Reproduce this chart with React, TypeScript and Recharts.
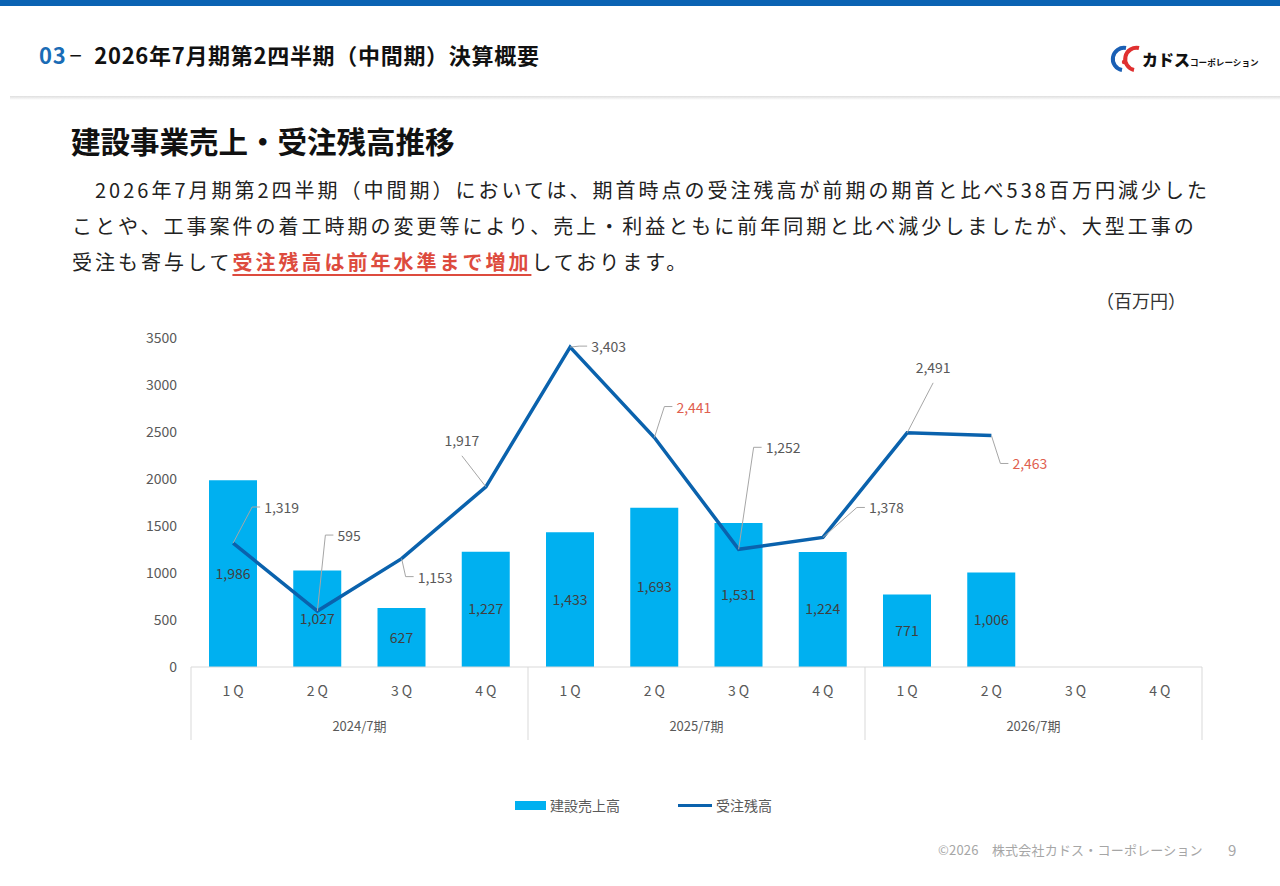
import React from "react";
import { Bar, ComposedChart, LabelList, Legend, Line, XAxis, YAxis } from "recharts";

const quarters = ["1 Q", "2 Q", "3 Q", "4 Q", "1 Q", "2 Q", "3 Q", "4 Q", "1 Q", "2 Q", "3 Q", "4 Q"];
const fiscalYears = ["2024/7期", "2025/7期", "2026/7期"];
const salesValues = [1986, 1027, 627, 1227, 1433, 1693, 1531, 1224, 771, 1006, null, null];
const backlogValues = [1319, 595, 1153, 1917, 3403, 2441, 1252, 1378, 2491, 2463, null, null];
const yTicks = [0, 500, 1000, 1500, 2000, 2500, 3000, 3500];

// where each 受注残高 label sits relative to its point (Excel callouts)
const backlogLabelPlacement = [
  { dx: 31, dy: -36, anchor: "start" },
  { dx: 20, dy: -76, anchor: "start" },
  { dx: 16, dy: 18, anchor: "start" },
  { dx: -24, dy: -47, anchor: "middle" },
  { dx: 21, dy: -1, anchor: "start" },
  { dx: 22, dy: -31, anchor: "start" },
  { dx: 27, dy: -102, anchor: "start" },
  { dx: 46, dy: -30, anchor: "start" },
  { dx: 26, dy: -66, anchor: "middle" },
  { dx: 21, dy: 28, anchor: "start" },
];
const highlightedBacklog = [5, 9];

const FONT = '"Noto Sans CJK JP", "Noto Sans", sans-serif';
const AXIS_GRAY = "#595959";
const BAR_BLUE = "#00b0f0";
const LINE_BLUE = "#0a62ad";
const CHART_W = 1280;
const MARGIN = { top: 38, right: 78, left: 0, bottom: 100 };
const Y_AXIS_W = 191;
const PLOT_W = CHART_W - MARGIN.right - MARGIN.left - Y_AXIS_W;

const data = quarters.map((q, i) => ({
  key: `${fiscalYears[Math.floor(i / 4)]}-${q}`,
  sales: salesValues[i],
  backlog: backlogValues[i],
}));

const fmt = (v: number) => v.toLocaleString("en-US");

function QuarterTick(props: any) {
  const { x, y, index } = props;
  const half = PLOT_W / quarters.length / 2;
  return (
    <g>
      <text x={x} y={y + 23} textAnchor="middle" dominantBaseline="central" fill={AXIS_GRAY} fontSize={14} fontFamily={FONT}>
        {quarters[index]}
      </text>
      {index % 4 === 0 && <line x1={x - half} x2={x - half} y1={y} y2={y + 73} stroke="#d9d9d9" />}
      {index === quarters.length - 1 && <line x1={x + half} x2={x + half} y1={y} y2={y + 73} stroke="#d9d9d9" />}
      {index % 4 === 1 && (
        <text x={x + half} y={y + 58} textAnchor="middle" dominantBaseline="central" fill={AXIS_GRAY} fontSize={13} fontFamily={FONT}>
          {fiscalYears[Math.floor(index / 4)]}
        </text>
      )}
    </g>
  );
}

function BacklogLabel(props: any) {
  const { value, index } = props;
  if (value == null) return null;
  const px = props.x ?? props.viewBox?.x;
  const py = props.y ?? props.viewBox?.y;
  const p = backlogLabelPlacement[index];
  if (!p) return null;
  const tx = px + p.dx;
  const ty = py + p.dy;
  const color = highlightedBacklog.includes(index) ? "#e0604f" : AXIS_GRAY;
  const d =
    p.anchor === "start"
      ? `M${px},${py}L${tx - 12},${ty}L${tx - 4},${ty}`
      : `M${px},${py}L${tx},${ty + 16}`;
  return (
    <g>
      <path d={d} stroke="#a6a6a6" strokeWidth={1} fill="none" />
      <text x={tx} y={ty} textAnchor={p.anchor} dominantBaseline="central" fill={color} fontSize={14} fontFamily={FONT}>
        {fmt(value)}
      </text>
    </g>
  );
}

function ChartLegend() {
  return (
    <div style={{ display: "flex", alignItems: "center", fontFamily: FONT, fontSize: 14, color: AXIS_GRAY, paddingLeft: 515 }}>
      <span style={{ display: "inline-block", width: 31, height: 9, background: BAR_BLUE, marginRight: 4 }} />
      <span style={{ marginRight: 58 }}>建設売上高</span>
      <span style={{ display: "inline-block", width: 34, height: 3, background: LINE_BLUE, marginRight: 4 }} />
      <span>受注残高</span>
    </div>
  );
}

function Logo() {
  return (
    <svg width={174} height={32} style={{ position: "absolute", left: 1106, top: 43 }}>
      <path d="M20,5 A11,11 0 1 0 16,27" stroke="#1a5fb4" strokeWidth={4} fill="none" />
      <path d="M33,5 A11,11 0 1 0 28,27" stroke="#e03030" strokeWidth={4} fill="none" />
      <circle cx={18} cy={19} r={2.2} fill="#e03030" />
      <text x={36} y={23} fontFamily={FONT} fontWeight={900} fontSize={16} fill="#111">カドス</text>
      <text x={84} y={23} fontFamily={FONT} fontWeight={700} fontSize={8.6} fill="#111">コーポレーション</text>
    </svg>
  );
}

const abs = (left: number, top: number, extra: React.CSSProperties = {}): React.CSSProperties => ({
  position: "absolute",
  left,
  top,
  whiteSpace: "nowrap",
  fontFamily: FONT,
  ...extra,
});

export default function App() {
  const para: React.CSSProperties = { fontSize: 20, lineHeight: "36px", letterSpacing: 3.0, color: "#222" };
  return (
    <div style={{ position: "absolute", left: 0, top: 0, width: 1280, height: 886, background: "#fff", overflow: "hidden" }}>
      <div style={{ position: "absolute", left: 0, top: 0, width: 1280, height: 6, background: "#0b63b3" }} />
      <div style={abs(39, 38, { fontSize: 22, lineHeight: "32px", fontWeight: 700, color: "#111", letterSpacing: 0.7 })}>
        <span style={{ color: "#1a6cb5" }}>03</span>
        <span style={{ marginLeft: 3, marginRight: 12, fontWeight: 400 }}>−</span>
        2026年7月期第2四半期（中間期）決算概要
      </div>
      <Logo />
      <div style={{ position: "absolute", left: 10, top: 96, width: 1270, height: 4, background: "linear-gradient(#dedede, rgba(255,255,255,0))" }} />

      <div style={abs(71, 120, { fontSize: 29.5, lineHeight: "40px", fontWeight: 700, color: "#111" })}>
        建設事業売上・受注残高推移
      </div>
      <div style={abs(72, 172, para)}>　2026年7月期第2四半期（中間期）においては、期首時点の受注残高が前期の期首と比べ538百万円減少した</div>
      <div style={abs(72, 208, para)}>ことや、工事案件の着工時期の変更等により、売上・利益ともに前年同期と比べ減少しましたが、大型工事の</div>
      <div style={abs(72, 244, para)}>
        受注も寄与して
        <span style={{ color: "#dd4b3e", fontWeight: 700, textDecoration: "underline", textDecorationThickness: 2, textUnderlineOffset: 4 }}>
          受注残高は前年水準まで増加
        </span>
        しております。
      </div>
      <div style={abs(1096, 286, { fontSize: 18, lineHeight: "28px", color: "#333" })}>（百万円）</div>

      <div style={{ position: "absolute", left: 0, top: 300 }}>
        <ComposedChart width={CHART_W} height={540} data={data} margin={MARGIN}>
          <XAxis
            dataKey="key"
            interval={0}
            height={73}
            tickSize={0}
            tickMargin={0}
            tickLine={false}
            axisLine={{ stroke: "#d9d9d9" }}
            tick={<QuarterTick />}
          />
          <YAxis
            domain={[0, 3500]}
            ticks={yTicks}
            width={Y_AXIS_W}
            axisLine={false}
            tickLine={false}
            tickSize={6}
            tickMargin={8}
            tick={{ fill: AXIS_GRAY, fontSize: 14, fontFamily: FONT }}
          />
          <Legend
            verticalAlign="middle"
            align="center"
            layout="horizontal"
            content={<ChartLegend />}
            wrapperStyle={{ top: 495, left: 0, width: CHART_W }}
          />
          <Bar dataKey="sales" name="建設売上高" fill={BAR_BLUE} barSize={48} isAnimationActive={false}>
            <LabelList
              dataKey="sales"
              position="center"
              formatter={(v: any) => (v == null ? "" : fmt(v))}
              fill="#404040"
              fontSize={14}
              fontFamily={FONT}
            />
          </Bar>
          <Line
            dataKey="backlog"
            name="受注残高"
            stroke={LINE_BLUE}
            strokeWidth={3.5}
            dot={false}
            activeDot={false}
            isAnimationActive={false}
          >
            <LabelList dataKey="backlog" content={<BacklogLabel />} />
          </Line>
        </ComposedChart>
      </div>

      <div style={abs(938, 840, { fontSize: 13, lineHeight: "20px", color: "#a6a6a6", letterSpacing: 0.2 })}>
        ©2026　株式会社カドス・コーポレーション
      </div>
      <div style={abs(1228, 840, { fontSize: 15, lineHeight: "20px", color: "#a6a6a6" })}>9</div>
    </div>
  );
}
